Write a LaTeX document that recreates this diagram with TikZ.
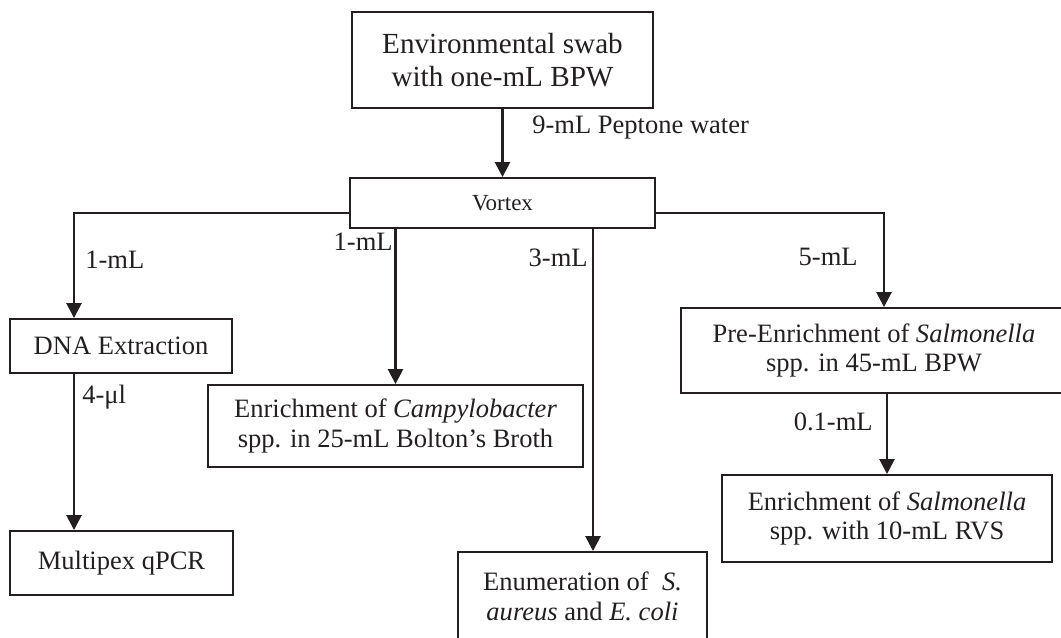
\documentclass[tikz,border=0pt]{standalone}
\usepackage{fontspec}
\setmainfont{Liberation Serif}
\definecolor{inkblack}{RGB}{35,31,32}
\usetikzlibrary{arrows.meta,calc}

\begin{document}
\begin{tikzpicture}[x=0.02cm,y=-0.02cm,
    box/.style={draw=inkblack,line width=1.1pt,inner sep=0pt,align=center,text=inkblack,
      font=\fontsize{15.1}{17}\selectfont},
    flow/.style={draw=inkblack,line width=1.5pt,-{Triangle[length=0.3cm,width=0.3cm]}},
    vol/.style={inner sep=0pt,text=inkblack,font=\fontsize{15.1}{17}\selectfont}]
  \clip (0,0) rectangle (1061,637);

  %% Sample and vortex
  \node[box,minimum width=6.02cm,minimum height=1.92cm,
        font=\fontsize{16.6}{18.5}\selectfont] (swab) at (502.5,60)
        {Environmental swab\\with one-mL BPW};
  \node[box,minimum width=6.1cm,minimum height=1cm,
        font=\fontsize{13.1}{15}\selectfont] (vortex) at (502.5,203) {Vortex};

  %% Left branch: DNA
  \node[box,minimum width=4.44cm,minimum height=1.08cm] (dna) at (121,346) {DNA Extraction};
  \node[box,minimum width=4.46cm,minimum height=1.28cm] (multi) at (121.5,563) {Multipex qPCR};

  %% Middle branches
  \node[box,minimum width=7.5cm,minimum height=1.64cm] (campy) at (395.5,426)
        {Enrichment of \textit{Campylobacter}\\spp. in 25-mL Bolton's Broth};
  \node[box,minimum width=4.98cm,minimum height=1.76cm] (enum) at (582.5,596)
        {Enumeration of\ \ \textit{S.}\\\textit{aureus} and \textit{E. coli}};

  %% Right branch: Salmonella
  \node[box,minimum width=7.72cm,minimum height=1.7cm] (pre) at (874,350.5)
        {Pre-Enrichment of \textit{Salmonella}\\spp. in 45-mL BPW};
  \node[box,minimum width=6.6cm,minimum height=1.74cm] (salm) at (887,518.5)
        {Enrichment of \textit{Salmonella}\\spp. with 10-mL RVS};

  %% Volume labels
  \node[vol,anchor=west] (lpep) at (532,128) {9-mL Peptone water};
  \node[vol,anchor=west] (ldna) at (85,260) {1-mL};
  \node[vol,anchor=east] (lcampy) at (393,242) {1-mL};
  \node[vol,anchor=east] (lenum) at (588,258) {3-mL};
  \node[vol,anchor=east] (lpre) at (858,257) {5-mL};
  \node[vol,anchor=west] (lpcr) at (82,397) {4-μl};
  \node[vol,anchor=east] (lsalm) at (873,422) {0.1-mL};

  %% Connectors
  \coordinate (dnain) at ($(dna.north)+(-47,0)$);
  \coordinate (enumin) at ($(enum.north)+(10.5,0)$);
  \coordinate (prein) at ($(pre.north)+(10,0)$);
  \draw[flow] (swab.south) -- (vortex.north);
  \draw[flow] ($(vortex.west)+(0,10)$) -| (dnain);
  \draw[flow] (dnain |- dna.south) -- (dnain |- multi.north);
  \draw[flow] (campy.north |- vortex.south) -- (campy.north);
  \draw[flow] (enumin |- vortex.south) -- (enumin);
  \draw[flow] ($(vortex.east)+(0,10)$) -| (prein);
  \draw[flow] (salm.north |- pre.south) -- (salm.north);
\end{tikzpicture}
\end{document}
